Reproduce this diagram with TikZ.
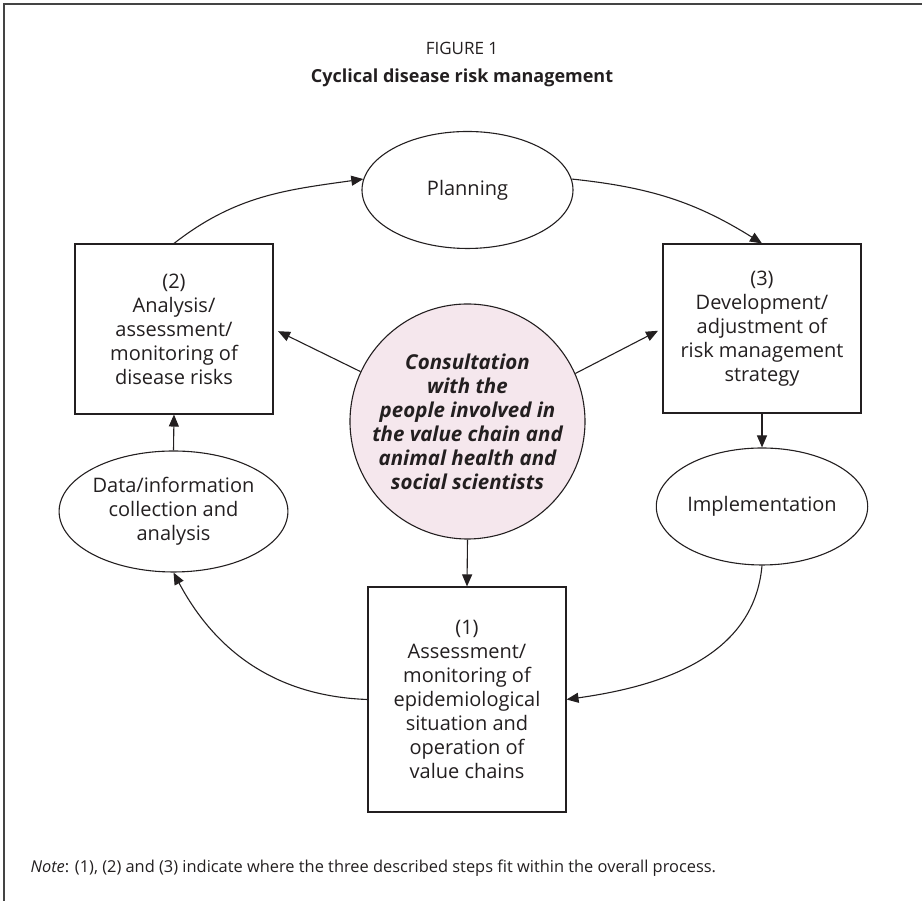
\documentclass[tikz,border=0pt]{standalone}
\usepackage{fontspec}
\setmainfont{Open Sans}
\usetikzlibrary{arrows.meta,shapes.geometric}
\definecolor{ink}{HTML}{231F20}
\definecolor{framegray}{HTML}{444444}
\definecolor{pinkfill}{HTML}{F5E7ED}
\begin{document}
\begin{tikzpicture}[x=1pt,y=1pt,
  every node/.style={text=ink},
  boxnode/.style={draw=ink, line width=1.1pt, minimum width=198pt, inner sep=0pt, align=center, font=\fontsize{20}{24}\selectfont},
  ovalnode/.style={ellipse, draw=ink, line width=1.1pt, minimum width=211pt, minimum height=117pt, inner sep=0pt, align=center, font=\fontsize{20}{24}\selectfont},
  arr/.style={draw=ink, line width=1.1pt, -{Triangle[length=12pt,width=10pt]}}
]
\useasboundingbox (0,0) rectangle (922,901);
\draw[framegray, line width=1.6pt] (922,897) -- (4,897) -- (4,0);

\node[anchor=base, font=\fontsize{17}{21}\selectfont] (fig) at (462,846) {FIGURE 1};
\node[anchor=base, font=\bfseries\fontsize{18}{22}\selectfont] (title) at (462,818) {Cyclical disease risk management};

\node[ovalnode] (plan) at (467.5,711) {Planning};
\node[boxnode, minimum height=170pt] (b2) at (174,572) {(2)\\Analysis/\\assessment/\\monitoring of\\disease risks};
\node[boxnode, minimum height=169pt] (b3) at (762,572.5) {(3)\\Development/\\adjustment of\\risk management\\strategy};
\node[circle, draw=ink, line width=1.1pt, fill=pinkfill, minimum size=235pt, inner sep=0pt, align=center,
      font=\bfseries\itshape\fontsize{20.5}{24}\selectfont] (circ) at (467.5,479.5)
      {Consultation\\with the\\people involved in\\the value chain and\\animal health and\\social scientists};
\node[ovalnode, minimum height=121pt] (data) at (173.5,389.5) {Data/information\\collection and\\analysis};
\node[ovalnode] (impl) at (762,394.5) {Implementation};
\node[boxnode, minimum height=225pt] (b1) at (467,201.5) {(1)\\Assessment/\\monitoring of\\epidemiological\\situation and\\operation of\\value chains};

\node[anchor=base west, font=\fontsize{16.4}{19}\selectfont] (note) at (27,28) {\textit{Note}: (1), (2) and (3) indicate where the three described steps fit within the overall process.};

\draw[arr] (b2.north) to[out=38, in=188] (plan.174);
\draw[arr] (plan.6) to[out=-6, in=148] (b3.north);
\draw[arr] (b3.south) -- (impl.north);
\draw[arr] (impl.south) to[out=-95, in=8] (b1.east);
\draw[arr] (b1.west) to[out=178, in=-62] (data.south);
\draw[arr] (data.north) -- (b2.south);
\draw[arr, shorten >=5pt] (circ.155) -- (b2.east);
\draw[arr, shorten >=5pt] (circ.24) -- (b3.west);
\draw[arr] (circ.south) -- (b1.north);
\end{tikzpicture}
\end{document}
